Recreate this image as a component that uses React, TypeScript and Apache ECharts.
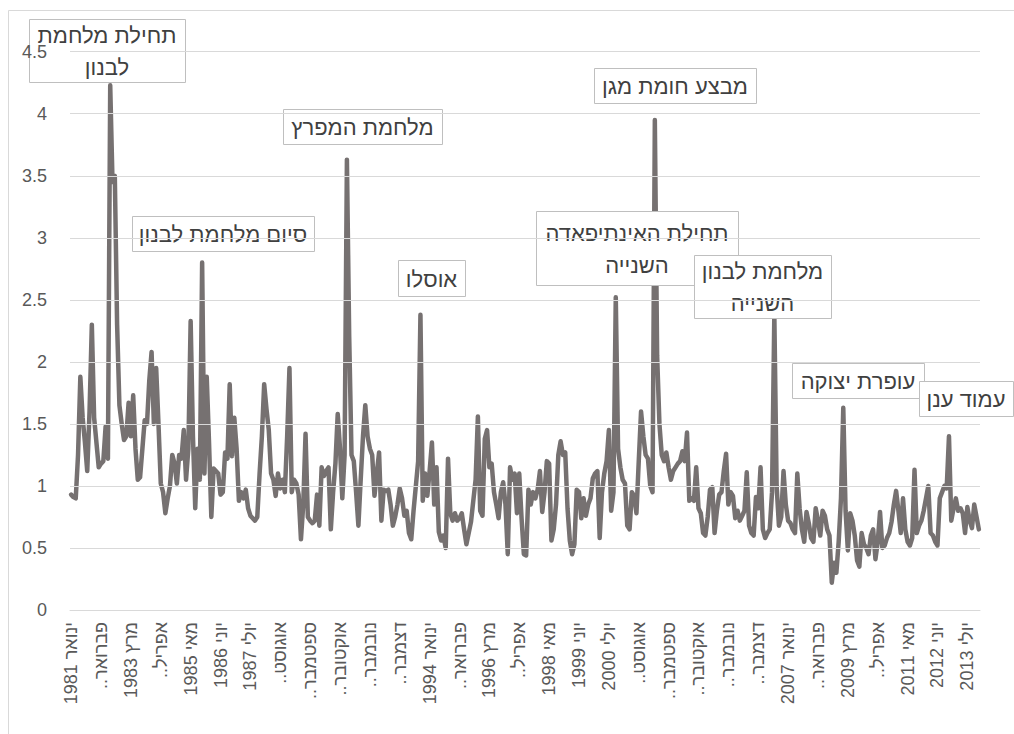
import React, { useEffect, useRef } from "react";
import * as echarts from "echarts";

const monthNames = ["ינואר", "פברואר", "מרץ", "אפריל", "מאי", "יוני", "יולי", "אוגוסט", "ספטמבר", "אוקטובר", "נובמבר", "דצמבר"];
const firstYear = 1981;
const lastYear = 2013;

// displayed (truncated) tick labels, one per 13 months
const tickLabels = [
  "ינואר 1981", "פברואר..", "מרץ 1983", "אפריל..", "מאי 1985", "יוני 1986", "יולי 1987",
  "אוגוסט..", "ספטמבר..", "אוקטובר..", "נובמבר..", "דצמבר..", "ינואר 1994", "פברואר..",
  "מרץ 1996", "אפריל..", "מאי 1998", "יוני 1999", "יולי 2000", "אוגוסט..", "ספטמבר..",
  "אוקטובר..", "נובמבר..", "דצמבר..", "ינואר 2007", "פברואר..", "מרץ 2009", "אפריל..",
  "מאי 2011", "יוני 2012", "יולי 2013",
];

const yTicks = { min: 0, max: 4.5, interval: 0.5 };

// monthly values, one row per year (Jan..Dec), 1981..2013
const values = [
  0.93, 0.91, 0.90, 1.25, 1.88, 1.55, 1.35, 1.12, 1.60, 2.30, 1.55, 1.35,
  1.15, 1.18, 1.20, 1.48, 1.22, 4.23, 3.45, 3.50, 2.30, 1.65, 1.50, 1.37,
  1.40, 1.67, 1.40, 1.73, 1.30, 1.05, 1.07, 1.30, 1.53, 1.50, 1.85, 2.08,
  1.50, 1.95, 1.50, 1.02, 0.95, 0.78, 0.90, 1.00, 1.25, 1.18, 1.02, 1.25,
  1.22, 1.45, 1.05, 1.30, 2.33, 1.40, 0.82, 1.30, 1.05, 2.80, 1.10, 1.88,
  1.35, 0.75, 1.14, 1.12, 1.10, 0.93, 0.95, 1.27, 1.22, 1.82, 1.24, 1.55,
  1.30, 0.88, 0.95, 0.90, 0.97, 0.82, 0.76, 0.74, 0.72, 0.75, 1.10, 1.40,
  1.82, 1.62, 1.45, 1.10, 1.05, 0.92, 1.10, 0.98, 1.05, 0.95, 1.40, 1.95,
  0.95, 1.05, 1.02, 0.93, 0.57, 0.85, 1.42, 0.75, 0.72, 0.70, 0.72, 0.93,
  0.68, 1.15, 1.08, 1.12, 1.15, 0.65, 0.95, 1.18, 1.58, 1.30, 0.90, 1.25,
  3.63, 2.20, 1.25, 1.20, 0.95, 0.68, 1.05, 1.40, 1.65, 1.40, 1.30, 1.25,
  0.92, 1.10, 1.27, 0.72, 0.97, 0.96, 0.97, 0.85, 0.68, 0.75, 0.85, 0.98,
  0.90, 0.76, 0.80, 0.62, 0.57, 0.80, 1.00, 1.20, 2.38, 0.88, 1.10, 0.92,
  1.12, 1.35, 0.85, 1.15, 0.63, 0.56, 0.60, 0.50, 1.22, 0.78, 0.72, 0.78,
  0.72, 0.74, 0.78, 0.65, 0.53, 0.62, 0.71, 0.88, 1.05, 1.56, 0.80, 0.76,
  1.38, 1.45, 1.15, 1.18, 0.95, 0.85, 0.74, 0.95, 1.03, 0.85, 0.45, 1.15,
  1.05, 1.10, 0.78, 1.10, 0.74, 0.45, 0.44, 0.97, 0.85, 0.95, 0.90, 0.97,
  1.12, 0.79, 0.95, 1.20, 1.18, 0.56, 0.65, 0.85, 1.25, 1.36, 1.25, 1.27,
  0.82, 0.56, 0.45, 0.53, 0.97, 0.95, 0.74, 0.90, 0.76, 0.85, 0.90, 1.06,
  1.10, 1.12, 0.58, 0.95, 1.10, 1.20, 1.45, 0.80, 0.95, 2.52, 1.30, 1.15,
  1.05, 1.02, 0.68, 0.65, 0.95, 0.92, 0.78, 1.20, 1.60, 1.40, 1.25, 1.22,
  1.00, 0.95, 3.95, 2.05, 1.50, 1.25, 1.20, 1.27, 1.15, 1.05, 1.12, 1.15,
  1.18, 1.20, 1.28, 1.20, 1.43, 0.88, 0.90, 0.88, 1.15, 0.82, 0.78, 0.62,
  0.60, 0.75, 0.97, 0.99, 0.62, 0.80, 0.93, 0.95, 1.12, 1.26, 0.85, 0.95,
  0.92, 0.74, 0.80, 0.72, 0.76, 0.80, 1.11, 0.68, 0.62, 0.60, 0.91, 0.82,
  1.15, 0.65, 0.58, 0.62, 0.65, 0.95, 2.38, 1.00, 0.68, 0.75, 1.12, 0.85,
  0.72, 0.70, 0.65, 0.62, 1.10, 0.82, 0.65, 0.55, 0.79, 0.70, 0.58, 0.55,
  0.82, 0.72, 0.60, 0.80, 0.76, 0.65, 0.60, 0.22, 0.38, 0.30, 0.55, 0.90,
  1.63, 0.80, 0.48, 0.78, 0.72, 0.60, 0.40, 0.35, 0.62, 0.53, 0.50, 0.45,
  0.60, 0.65, 0.41, 0.55, 0.79, 0.50, 0.52, 0.58, 0.62, 0.71, 0.85, 0.96,
  0.80, 0.62, 0.90, 0.65, 0.55, 0.52, 0.58, 1.13, 0.62, 0.68, 0.72, 0.80,
  0.90, 1.00, 0.62, 0.60, 0.55, 0.52, 0.90, 0.95, 1.00, 0.98, 1.40, 0.72,
  0.82, 0.90, 0.80, 0.82, 0.78, 0.62, 0.83, 0.72, 0.66, 0.85, 0.75, 0.65,
];

// annotation texts
const annotations = [
  { text: "תחילת מלחמת\nלבנון", box: [29, 19, 156, 63] },
  { text: "סיום מלחמת לבנון", box: [132, 216, 182, 35] },
  { text: "מלחמת המפרץ", box: [283, 109, 159, 35] },
  { text: "אוסלו", box: [398, 260, 67, 36] },
  { text: "תחילת האינתיפאדה\nהשנייה", box: [536, 211, 202, 74] },
  { text: "מבצע חומת מגן", box: [594, 68, 162, 35] },
  { text: "מלחמת לבנון\nהשנייה", box: [694, 255, 137, 63] },
  { text: "עופרת יצוקה", box: [792, 363, 132, 35] },
  { text: "עמוד ענן", box: [919, 381, 94, 35] },
];

const categories: string[] = [];
for (let y = firstYear; y <= lastYear; y++) {
  for (let m = 0; m < 12; m++) categories.push(monthNames[m] + " " + y);
}

const FONT = '"Liberation Sans", Arial, "DejaVu Sans", sans-serif';

export default function App() {
  const ref = useRef<HTMLDivElement>(null);
  useEffect(() => {
    if (!ref.current) return;
    const chart = echarts.init(ref.current, null, { renderer: "svg" });
    const graphics: any[] = [
      {
        type: "rect",
        shape: { x: 8.5, y: 10.5, width: 1020, height: 740 },
        style: { fill: "none", stroke: "#d9d9d9", lineWidth: 1 },
        silent: true,
        z: 0,
      },
    ];
    annotations.forEach((a, k) => {
      const [x, y, w, h] = a.box;
      graphics.push({
        type: "rect",
        z: 100 + 2 * k,
        shape: { x: x + 0.5, y: y + 0.5, width: w, height: h },
        style: { fill: "#ffffff", stroke: "#bfbfbf", lineWidth: 1 },
      });
      graphics.push({
        type: "text",
        z: 101 + 2 * k,
        x: x + w / 2,
        y: y + h / 2 + 1,
        style: {
          text: a.text,
          font: "22px " + FONT,
          fill: "#404040",
          align: "center",
          verticalAlign: "middle",
          lineHeight: 32,
        },
      });
    });
    chart.setOption({
      animation: false,
      backgroundColor: "#ffffff",
      grid: { left: 70, right: 34, top: 51.7, bottom: 124, containLabel: false },
      xAxis: {
        type: "category",
        data: categories,
        boundaryGap: true,
        axisTick: { show: false },
        axisLine: { lineStyle: { color: "#d9d9d9", width: 1 } },
        splitLine: { show: false },
        axisLabel: {
          interval: 12,
          rotate: 90,
          margin: 12,
          fontSize: 18,
          fontFamily: FONT,
          color: "#595959",
          formatter: (_v: string, idx: number) => "\u202B" + (tickLabels[Math.round(idx / 13)] ?? "") + "\u202C",
        },
      },
      yAxis: {
        type: "value",
        min: yTicks.min,
        max: yTicks.max,
        interval: yTicks.interval,
        axisLine: { show: false },
        axisTick: { show: false },
        splitLine: { lineStyle: { color: "#d9d9d9", width: 1 } },
        axisLabel: { fontSize: 18, fontFamily: FONT, color: "#595959", margin: 23 },
        z: 200,
      },
      series: [
        {
          type: "line",
          data: values,
          showSymbol: false,
          symbol: "none",
          lineStyle: { color: "#767171", width: 4.5, join: "round", cap: "round" },
          z: 2,
        },
      ],
      graphic: graphics,
    });
    return () => chart.dispose();
  }, []);
  return <div ref={ref} style={{ position: "absolute", left: 0, top: 0, width: 1014, height: 734 }} />;
}
